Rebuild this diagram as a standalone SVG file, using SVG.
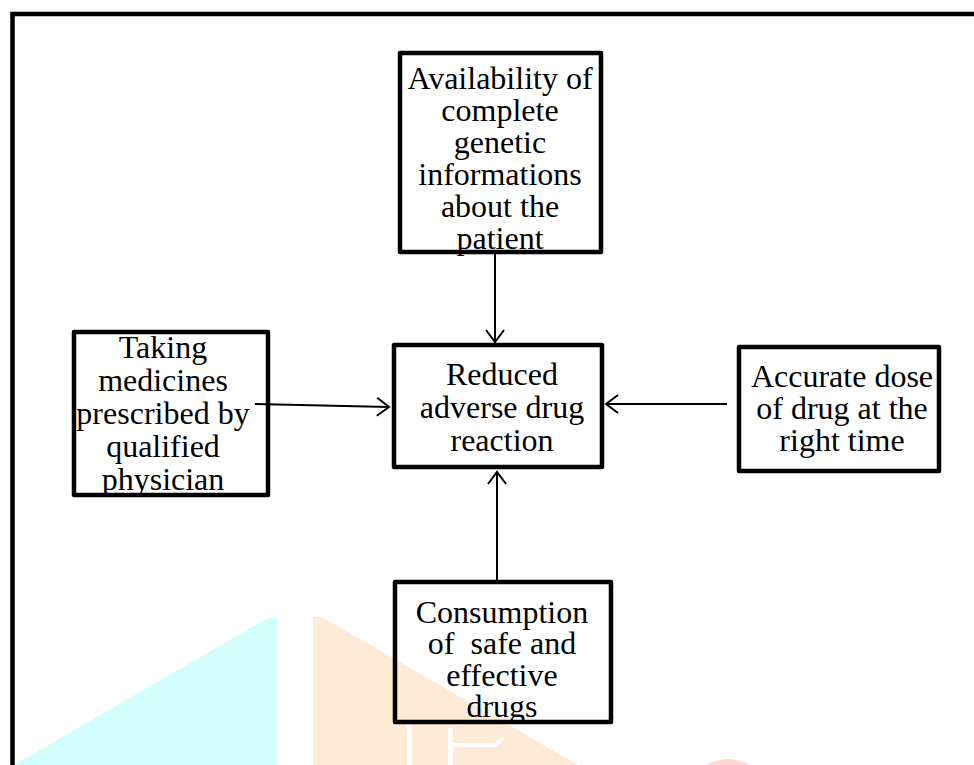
<svg xmlns="http://www.w3.org/2000/svg" width="974" height="765" viewBox="0 0 974 765">
<defs>
<style>
.box{fill:none;stroke:#000;stroke-width:4.5;stroke-linejoin:round}
.t{font-family:"Liberation Serif","Times New Roman",serif;font-size:32px;fill:#000;text-anchor:middle}
.con{stroke:#000;stroke-width:2;fill:none}
</style>
<marker id="ah" viewBox="-14 -10 16 20" markerWidth="16" markerHeight="20" refX="0" refY="0" orient="auto" markerUnits="userSpaceOnUse">
<path d="M-12,-9 L0,0 L-12,9" fill="none" stroke="#000" stroke-width="2"/>
</marker>
</defs>
<rect width="974" height="765" fill="#fff"/>
<g id="watermark">
<polygon points="14,765 266,619 277,617 277,765" fill="#d3fefe"/>
<polygon points="313,617 322,617 578,765 313,765" fill="#fdebd8"/>
<rect x="407" y="723" width="5" height="42" fill="#fff"/>
<rect x="448" y="728" width="5" height="37" fill="#fff"/>
<path d="M453,745 L495,745 Q500,742 503,738" fill="none" stroke="#fff" stroke-width="4"/>
<ellipse cx="728" cy="794" rx="38" ry="35" fill="#fdd9d1"/>
</g>
<g id="frame">
<path d="M12.5,765 L12.5,14 L974,14" fill="none" stroke="#000" stroke-width="4.5"/>
</g>
<g id="node-top">
<text class="t"><tspan x="500" y="89">Availability of</tspan><tspan x="500" y="121">complete</tspan><tspan x="500" y="153">genetic</tspan><tspan x="500" y="185">informations</tspan><tspan x="500" y="217">about the</tspan><tspan x="500" y="249">patient</tspan></text>
<rect class="box" x="400" y="53" width="201" height="199"/>
</g>
<g id="node-center">
<text class="t"><tspan x="502" y="385">Reduced</tspan><tspan x="502" y="418">adverse drug</tspan><tspan x="502" y="451">reaction</tspan></text>
<rect class="box" x="394" y="345" width="208" height="122"/>
</g>
<g id="node-left">
<text class="t"><tspan x="163" y="358">Taking</tspan><tspan x="163" y="391">medicines</tspan><tspan x="163" y="424">prescribed by</tspan><tspan x="163" y="457">qualified</tspan><tspan x="163" y="490">physician</tspan></text>
<rect class="box" x="74" y="332" width="194" height="163"/>
</g>
<g id="node-right">
<text class="t"><tspan x="842" y="387">Accurate dose</tspan><tspan x="842" y="419">of drug at the</tspan><tspan x="842" y="451">right time</tspan></text>
<rect class="box" x="739" y="347" width="200" height="124"/>
</g>
<g id="node-bottom">
<text class="t" xml:space="preserve"><tspan x="502" y="623">Consumption</tspan><tspan x="502" y="654">of  safe and</tspan><tspan x="502" y="686">effective</tspan><tspan x="502" y="717">drugs</tspan></text>
<rect class="box" x="395" y="582" width="216" height="140"/>
</g>
<g id="connectors">
<line class="con" x1="495" y1="254" x2="495" y2="342" marker-end="url(#ah)"/>
<line class="con" x1="255" y1="404" x2="389" y2="407" marker-end="url(#ah)"/>
<line class="con" x1="727" y1="404" x2="606" y2="404" marker-end="url(#ah)"/>
<line class="con" x1="497" y1="580" x2="497" y2="472" marker-end="url(#ah)"/>
</g>
</svg>
